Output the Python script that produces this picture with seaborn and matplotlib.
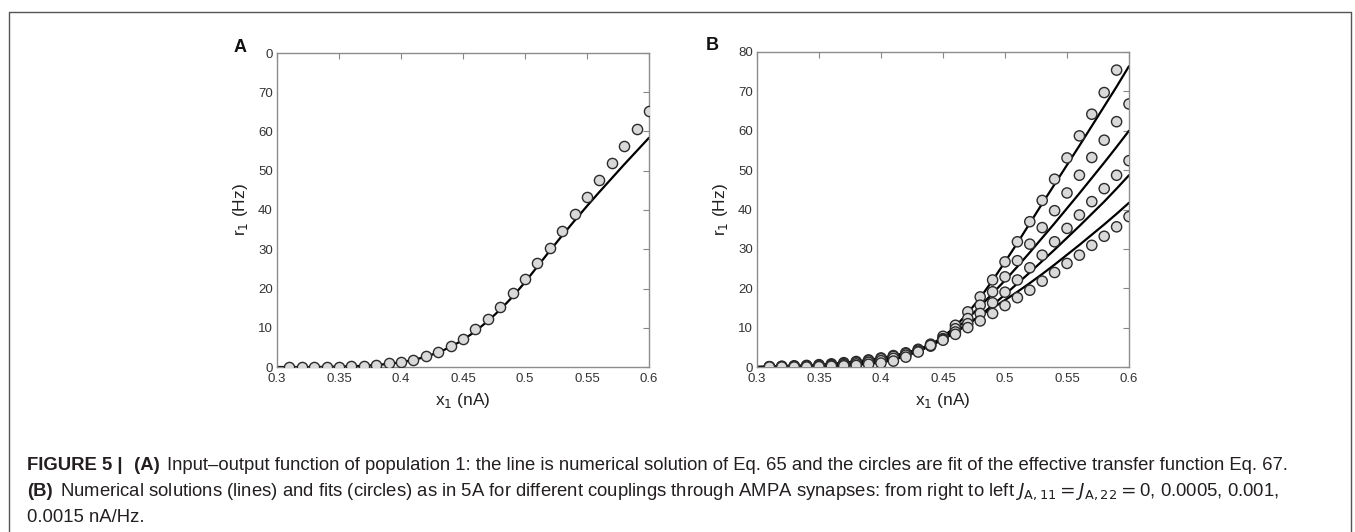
import numpy as np
import pandas as pd
import seaborn as sns
import matplotlib.pyplot as plt
from matplotlib.lines import Line2D
from matplotlib.offsetbox import TextArea, HPacker, AnnotationBbox

# ---- data ----
x_line = np.round(np.arange(0.30, 0.6001, 0.01), 2)   # line samples
x_fit = np.round(np.arange(0.31, 0.6001, 0.01), 2)    # circle samples

# panel A
a_line = [0, 0, 0, 0, 0.05, 0.1, 0.2, 0.3, 0.5, 0.8, 1.2, 1.8, 2.6, 3.7, 5.1, 6.9,
          9.1, 11.7, 14.6, 17.9, 21.6, 25.6, 29.6, 33.5, 37.3, 41.0, 44.6, 48.1,
          51.6, 55.0, 58.4]
a_fit = [0, 0, 0, 0, 0, 0.2, 0.3, 0.6, 0.9, 1.3, 1.9, 2.7, 3.8, 5.4, 7.2, 9.6,
         12.3, 15.4, 18.8, 22.5, 26.5, 30.4, 34.6, 38.9, 43.3, 47.7, 52.0, 56.4,
         60.6, 65.2]

# panel B, couplings J (nA/Hz)
couplings = ["0.0015", "0.001", "0.0005", "0"]
b_lines = [
    [0, 0.1, 0.2, 0.3, 0.4, 0.6, 0.8, 1.1, 1.4, 1.8, 2.3, 2.9, 3.6, 4.5, 5.7, 7.6,
     10.3, 13.7, 17.6, 22.0, 26.7, 31.5, 36.5, 41.5, 46.4, 51.3, 56.2, 61.2, 66.2,
     71.2, 76.4],
    [0, 0.05, 0.1, 0.2, 0.3, 0.4, 0.6, 0.8, 1.1, 1.5, 1.9, 2.5, 3.2, 4.1, 5.5, 7.2,
     9.6, 12.3, 15.4, 18.7, 22.0, 25.5, 29.1, 32.8, 36.5, 40.3, 44.1, 48.0, 51.9,
     55.9, 60.0],
    [0, 0, 0.05, 0.1, 0.2, 0.3, 0.4, 0.6, 0.8, 1.1, 1.5, 2.1, 2.9, 4.0, 5.4, 7.0,
     8.8, 10.8, 13.1, 15.7, 18.4, 21.2, 24.0, 26.9, 29.8, 32.8, 35.8, 38.9, 42.0,
     45.3, 48.7],
    [0, 0, 0, 0, 0.05, 0.1, 0.2, 0.3, 0.5, 0.8, 1.1, 1.8, 2.8, 4.0, 5.5, 7.2,
     9.0, 11.0, 13.0, 15.0, 17.0, 19.1, 21.3, 23.6, 26.0, 28.5, 31.0, 33.6, 36.2,
     38.9, 41.7],
]
b_fits = [
    [0.1, 0.2, 0.3, 0.4, 0.6, 0.8, 1.1, 1.4, 1.8, 2.3, 2.9, 3.6, 4.5, 5.8, 7.8,
     10.6, 14.0, 17.8, 22.1, 26.7, 31.8, 36.9, 42.3, 47.7, 53.1, 58.7, 64.2, 69.7,
     75.4, np.nan],
    [0.05, 0.1, 0.2, 0.3, 0.4, 0.6, 0.9, 1.2, 1.6, 2.1, 2.7, 3.4, 4.3, 5.5, 7.2,
     9.7, 12.3, 15.7, 19.1, 22.9, 27.0, 31.2, 35.4, 39.7, 44.2, 48.7, 53.2, 57.6,
     62.3, 66.8],
    [0, 0.05, 0.1, 0.2, 0.3, 0.4, 0.6, 0.8, 1.2, 1.6, 2.2, 3.0, 4.0, 5.3, 7.0,
     8.9, 11.0, 13.6, 16.3, 19.0, 22.1, 25.2, 28.4, 31.8, 35.2, 38.6, 42.0, 45.3,
     48.7, 52.4],
    [0, 0, 0, 0, 0.1, 0.2, 0.3, 0.4, 0.7, 1.0, 1.5, 2.5, 3.8, 5.5, 6.8, 8.3,
     10.0, 11.7, 13.6, 15.6, 17.6, 19.5, 21.8, 24.0, 26.3, 28.4, 30.9, 33.2, 35.6,
     38.2],
]

x_ticks = [0.3, 0.35, 0.4, 0.45, 0.5, 0.55, 0.6]
x_ticklabels = ["0.3", "0.35", "0.4", "0.45", "0.5", "0.55", "0.6"]
y_ticks = [0, 10, 20, 30, 40, 50, 60, 70, 80]
y_ticklabels_a = ["0", "10", "20", "30", "40", "50", "60", "70", "0"]
y_ticklabels_b = ["0", "10", "20", "30", "40", "50", "60", "70", "80"]

# ---- frames for seaborn ----
df_a_line = pd.DataFrame({"x": x_line, "r": a_line})
df_a_fit = pd.DataFrame({"x": x_fit, "r": a_fit})
df_b_line = pd.concat([pd.DataFrame({"x": x_line, "r": v, "J": j})
                       for j, v in zip(couplings, b_lines)])
df_b_fit = pd.concat([pd.DataFrame({"x": x_fit, "r": v, "J": j})
                      for j, v in zip(couplings, b_fits)]).dropna()

sns.set_theme(style="white")
plt.rcParams["font.family"] = ["Liberation Sans", "DejaVu Sans"]

fig = plt.figure(figsize=(13.55, 5.32), dpi=100)
W, H = 1355, 532
ax_a = fig.add_axes([277 / W, 1 - 367 / H, 372 / W, 314 / H])
ax_b = fig.add_axes([757 / W, 1 - 367 / H, 372 / W, 315 / H])

black4 = {j: "black" for j in couplings}
face = "#d9d9d9"
edge = "#2b2b2b"

sns.lineplot(data=df_a_line, x="x", y="r", color="black", lw=1.6, ax=ax_a)
sns.scatterplot(data=df_a_fit, x="x", y="r", color=face, edgecolor=edge,
                linewidth=1.0, s=54, ax=ax_a, zorder=3)

sns.lineplot(data=df_b_line, x="x", y="r", hue="J", palette=black4, lw=1.6,
             estimator=None, legend=False, ax=ax_b)
sns.scatterplot(data=df_b_fit, x="x", y="r", hue="J",
                palette={j: face for j in couplings}, edgecolor=edge,
                linewidth=1.0, s=54, legend=False, ax=ax_b, zorder=3)

for ax, ylabs in ((ax_a, y_ticklabels_a), (ax_b, y_ticklabels_b)):
    ax.set_xlim(0.3, 0.6)
    ax.set_ylim(0, 80)
    ax.set_xticks(x_ticks)
    ax.set_xticklabels(x_ticklabels)
    ax.set_yticks(y_ticks)
    ax.set_yticklabels(ylabs)
    ax.tick_params(direction="in", length=4, width=0.8, color="#888888",
                   top=True, right=True, labelsize=9.5, labelcolor="#333333")
    ax.tick_params(axis="x", pad=4)
    ax.tick_params(axis="y", pad=3)
    for sp in ax.spines.values():
        sp.set_color("#8c8c8c")
        sp.set_linewidth(1.0)
    ax.set_xlabel("x$_1$ (nA)", fontsize=12.5, color="#222222", labelpad=5)
    ax.set_ylabel("r$_1$ (Hz)", fontsize=12.5, color="#222222", labelpad=6)

fig.text(240 / W, 1 - 47 / H, "A", fontsize=13, fontweight="bold",
         ha="center", va="center", color="#111111")
fig.text(712 / W, 1 - 45 / H, "B", fontsize=13, fontweight="bold",
         ha="center", va="center", color="#111111")

# outer frame (open at bottom)
fcol = "#555555"
fig.add_artist(Line2D([9 / W, 1351 / W], [1 - 12 / H, 1 - 12 / H],
                      transform=fig.transFigure, color=fcol, lw=1))
fig.add_artist(Line2D([9 / W, 9 / W], [0, 1 - 12 / H],
                      transform=fig.transFigure, color=fcol, lw=1))
fig.add_artist(Line2D([1351 / W, 1351 / W], [0, 1 - 12 / H],
                      transform=fig.transFigure, color=fcol, lw=1))

# caption
cap_size = 13.3
ccol = "#231f20"


def caption_line(parts, y):
    boxes = [TextArea(t, textprops=dict(fontsize=cap_size, color=ccol,
                                        fontweight=w))
             for t, w in parts]
    pack = HPacker(children=boxes, align="baseline", pad=0, sep=5)
    ab = AnnotationBbox(pack, (27, H - y), xycoords="figure pixels",
                        box_alignment=(0, 0.5), frameon=False, pad=0)
    fig.add_artist(ab)


caption_line([("FIGURE 5 |", "bold"), (" (A)", "bold"),
              ("Input–output function of population 1: the line is numerical "
               "solution of Eq. 65 and the circles are fit of the effective "
               "transfer function Eq. 67.", "normal")], 465)
caption_line([("(B)", "bold"),
              ("Numerical solutions (lines) and fits (circles) as in 5A for "
               "different couplings through AMPA synapses: from right to left "
               r"$J_{\mathrm{A,11}}=J_{\mathrm{A,22}}=$0, 0.0005, 0.001,",
               "normal")], 492)
caption_line([("0.0015 nA/Hz.", "normal")], 518)

fig.savefig("out.png", dpi=100)
